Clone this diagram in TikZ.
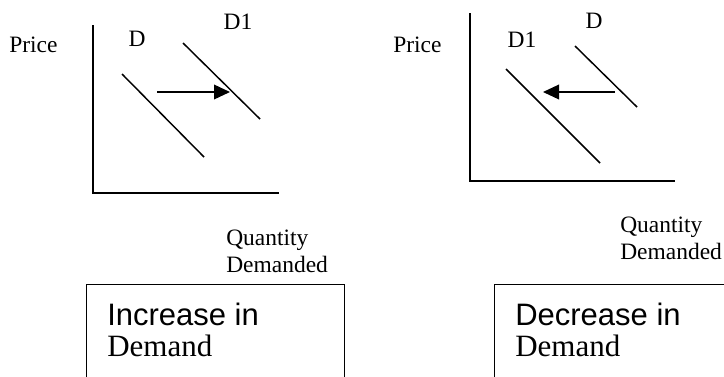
\documentclass[tikz,border=0pt]{standalone}
\usepackage{fontspec}
\setmainfont{Liberation Serif}
\setsansfont{Liberation Sans}
\newfontfamily\capserif{Liberation Serif}
\newfontfamily\capsans{Liberation Sans}
\usetikzlibrary{arrows.meta}

\begin{document}
\begin{tikzpicture}[
  x=0.75pt, y=-0.75pt,
  axis/.style={line width=1.5pt, black, line cap=rect},
  dline/.style={line width=1.1pt, black},
  shiftarrow/.style={-{Triangle[length=12pt,width=11pt]}, line width=1.1pt, black},
  lbl/.style={inner sep=0pt, font=\capserif\fontsize{17.6}{20.25}\selectfont},
  qlbl/.style={lbl, align=left, anchor=west},
  capbox/.style={draw, line width=1.1pt, anchor=north west,
                 minimum height=90pt, inner sep=0pt},
  captop/.style={inner sep=0pt, anchor=base west,
                 font=\capsans\fontsize{23.25}{26}\selectfont},
  capbot/.style={inner sep=0pt, anchor=base west,
                 font=\capserif\fontsize{23.25}{26}\selectfont}
]
\useasboundingbox (0,0) rectangle (724,376);
\clip (0,0) rectangle (724,376);

% Left panel: increase
\coordinate (lo)  at (93,193);
\coordinate (ly)  at (93,26);
\coordinate (lx)  at (278,193);
\draw[axis] (ly) -- (lo) -- (lx);
\coordinate (ld1) at (122,74);  \coordinate (ld2) at (204,157);
\coordinate (le1) at (183,43);  \coordinate (le2) at (260,119);
\draw[dline] (ld1) -- (ld2);
\draw[dline] (le1) -- (le2);
\coordinate (la1) at (157,92);  \coordinate (la2) at (230,92);
\draw[shiftarrow] (la1) -- (la2);

\node[lbl, anchor=west] (lprice) at (9,45)  {Price};
\node[lbl]              (ldlbl)  at (137,39) {D};
\node[lbl]              (ld1lbl) at (238,22) {D1};
\node[qlbl]             (lqty)   at (226,251.5) {Quantity\\Demanded};

% Right panel: decrease
\coordinate (ro)  at (470,181);
\coordinate (ry)  at (470,14);
\coordinate (rx)  at (674,181);
\draw[axis] (ry) -- (ro) -- (rx);
\coordinate (rd1) at (575,46);  \coordinate (rd2) at (637,107);
\coordinate (re1) at (506,69);  \coordinate (re2) at (600,163);
\draw[dline] (rd1) -- (rd2);
\draw[dline] (re1) -- (re2);
\coordinate (ra1) at (615,92);  \coordinate (ra2) at (543,92);
\draw[shiftarrow] (ra1) -- (ra2);

\node[lbl, anchor=west] (rprice) at (393,45)  {Price};
\node[lbl]              (rd1lbl) at (522,40) {D1};
\node[lbl]              (rdlbl)  at (594,21) {D};
\node[qlbl]             (rqty)   at (620,238.5) {Quantity\\Demanded};

% Caption boxes
\node[capbox, minimum width=193.5pt] (incbox) at (86,284) {};
\node[captop] (inctop) at (107,325) {Increase in};
\node[capbot] (incbot) at (107,356) {Demand};

\node[capbox, minimum width=195pt] (decbox) at (494,284) {};
\node[captop] (dectop) at (515,325) {Decrease in};
\node[capbot] (decbot) at (515,356) {Demand};

\end{tikzpicture}
\end{document}
